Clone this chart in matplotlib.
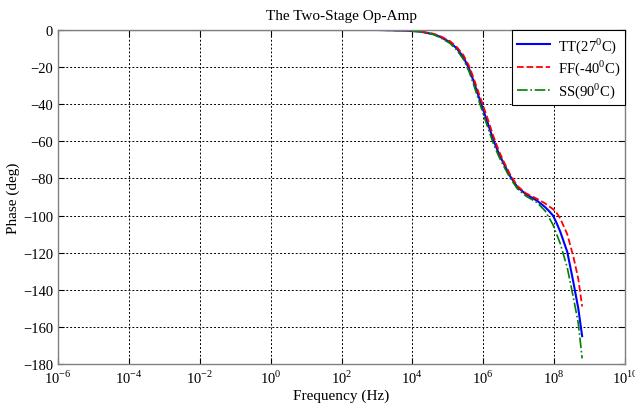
import matplotlib.pyplot as plt
from matplotlib.ticker import NullLocator

# frequency points (Hz) and phase (deg)
freq = [1e-6, 1e3, 6.3e3, 1.6e4, 3.9e4, 6.3e4, 1.15e5, 1.8e5, 2.75e5, 4e5,
        5.25e5, 8.1e5, 1.26e6, 1.95e6, 2.8e6, 3.8e6, 5.6e6, 9.1e6, 1.6e7,
        3.3e7, 5.6e7, 7.1e7, 9.3e7, 1.17e8, 1.48e8, 2.34e8, 3.47e8, 4.79e8,
        6.17e8]

phase_tt = [0, 0, -0.3, -0.8, -2.2, -3.8, -6.6, -10, -14.6, -21, -27.2, -38,
            -48.7, -59.5, -67, -72, -78.5, -84.6, -88.5, -92, -95.5, -97.5,
            -100, -104, -108.6, -119.5, -135.7, -150, -165]
phase_ff = [0, 0, -0.3, -0.7, -2.0, -3.4, -6.0, -9.2, -13.5, -19.5, -25.5, -36,
            -46.5, -57.5, -65.5, -71, -77.5, -84, -88, -91, -93.5, -95,
            -96.5, -98.5, -101.5, -110, -122, -134, -149]
phase_ss = [0, 0, -0.3, -0.9, -2.4, -4.2, -7.2, -10.8, -15.8, -22.5, -29, -40,
            -51, -61.5, -68.5, -73.5, -79.5, -85.5, -89.5, -93, -97.5, -101,
            -105, -110, -115, -128, -144, -158, -177]

labels = ["TT(27$^0$C)", "FF(-40$^0$C)", "SS(90$^0$C)"]
yticks = list(range(-180, 1, 20))
xticks = [1e-6, 1e-4, 1e-2, 1e0, 1e2, 1e4, 1e6, 1e8, 1e10]
xticklabels = ["10$^{-6}$", "10$^{-4}$", "10$^{-2}$", "10$^{0}$", "10$^{2}$",
               "10$^{4}$", "10$^{6}$", "10$^{8}$", "10$^{10}$"]

plt.rcParams['font.family'] = ['Liberation Serif', 'DejaVu Serif']
plt.rcParams['mathtext.fontset'] = 'custom'
plt.rcParams['mathtext.rm'] = 'Liberation Serif'

fig = plt.figure(figsize=(6.35, 4.06), dpi=100)
ax = fig.add_axes([0.0913, 0.101, 0.893, 0.8226])

ax.plot(freq, phase_tt, color='#0000ff', lw=1.5, label=labels[0])
ax.plot(freq, phase_ff, color='#ff0000', lw=1.3, ls='--', label=labels[1])
ax.plot(freq, phase_ss, color='#008000', lw=1.2, ls='-.', label=labels[2])

ax.set_xscale('log')
ax.set_xlim(1e-6, 1e10)
ax.set_ylim(-180, 0)
ax.set_xticks(xticks)
ax.set_xticklabels(xticklabels)
ax.xaxis.set_minor_locator(NullLocator())
ax.set_yticks(yticks)
ax.grid(True, color='black', ls=(0, (2, 2)), lw=0.7)

ax.tick_params(direction='in', top=True, right=True, labelsize=10.5, length=4)
for s in ax.spines.values():
    s.set_color('#808080')
    s.set_linewidth(1.0)

ax.set_title("The Two-Stage Op-Amp", fontsize=11, pad=8)
ax.set_xlabel("Frequency (Hz)", fontsize=11, labelpad=2)
ax.set_ylabel("Phase (deg)", fontsize=11, labelpad=2)

leg = ax.legend(loc='upper right', fontsize=10.5, fancybox=False, framealpha=1,
                edgecolor='black', borderaxespad=0, handlelength=2.3,
                handletextpad=0.5, labelspacing=0.2, borderpad=0.35)
leg.get_frame().set_linewidth(0.8)

fig.savefig("out.png", dpi=100)
